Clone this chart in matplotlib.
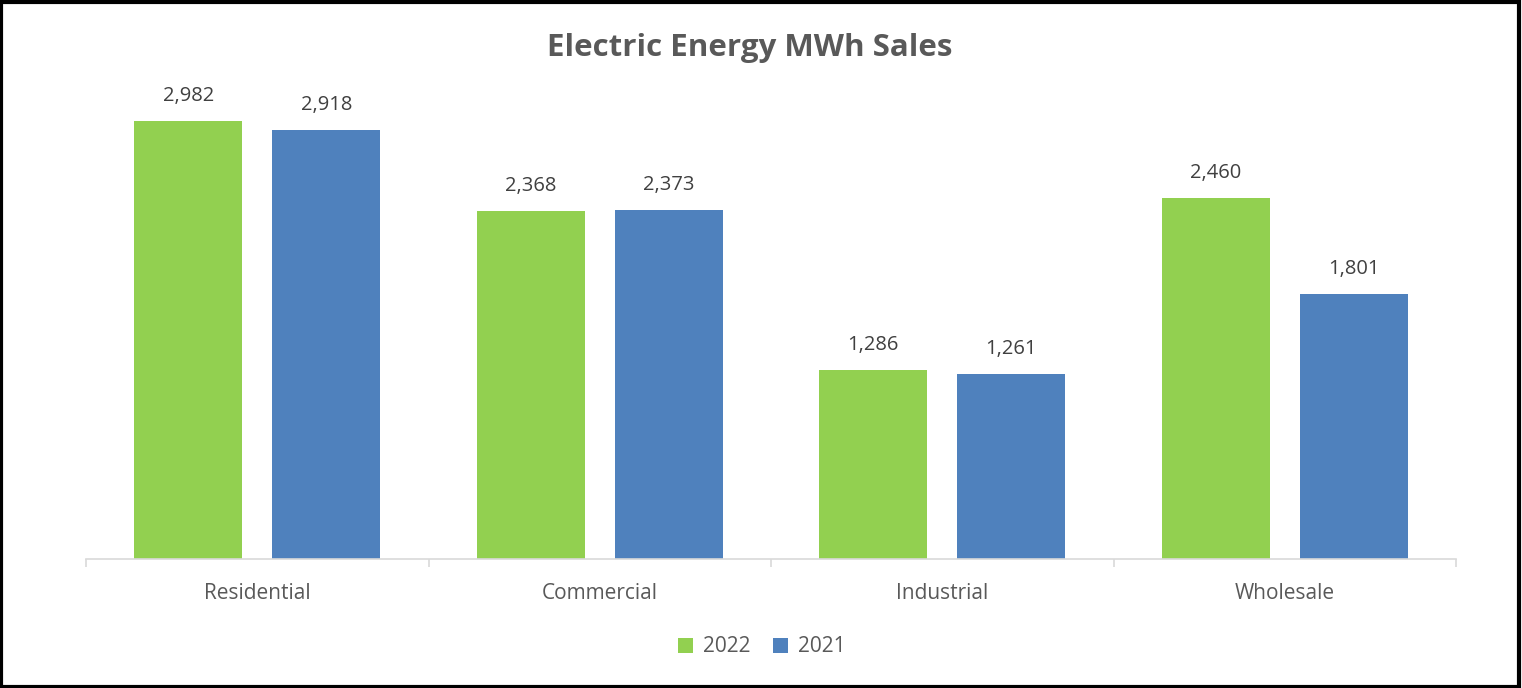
import matplotlib
matplotlib.use("Agg")
import matplotlib.pyplot as plt
import numpy as np
from matplotlib.patches import Rectangle

categories = ["Residential", "Commercial", "Industrial", "Wholesale"]
series_names = ["2022", "2021"]
values_2022 = [2982, 2368, 1286, 2460]
values_2021 = [2918, 2373, 1261, 1801]
title = "Electric Energy MWh Sales"

GREEN = "#92D050"
BLUE = "#4F81BD"
TXT = "#595959"
LBL = "#404040"
FONT = "Open Sans"

fig = plt.figure(figsize=(15.22, 6.88), dpi=100)
ax = fig.add_axes([86/1522, (688-559)/688, (1456-86)/1522, (559-90)/688])

x = np.arange(len(categories))
w = 108/342
gap = 30/342
off = (w + gap) / 2
b1 = ax.bar(x - off, values_2022, w, color=GREEN, label=series_names[0], zorder=2)
b2 = ax.bar(x + off, values_2021, w, color=BLUE, label=series_names[1], zorder=2)

for bars, vals in ((b1, values_2022), (b2, values_2021)):
    for r, v in zip(bars, vals):
        ax.annotate(f"{v:,}", (r.get_x() + r.get_width()/2, v), xytext=(0, 18),
                    textcoords="offset points", ha="center", va="center",
                    fontsize=14.5, color=LBL, family=FONT)

ax.set_xlim(-0.5, len(categories) - 0.5)
ax.set_ylim(0, 469/0.14688)
for s in ("top", "right", "left"):
    ax.spines[s].set_visible(False)
ax.spines["bottom"].set_color("#D9D9D9")
ax.spines["bottom"].set_linewidth(1.2)
ax.set_yticks([])
ax.set_xticks(np.arange(-0.5, len(categories), 1.0), minor=False)
ax.set_xticklabels([])
ax.tick_params(axis="x", which="major", length=6, color="#D9D9D9", width=1.2)
ax.set_xticks(x, minor=True)
ax.set_xticklabels(categories, minor=True, fontsize=15, color=TXT, family=FONT)
ax.tick_params(axis="x", which="minor", length=0, pad=17)

fig.text(750/1522, 1 - 48/688, title, ha="center", va="center", fontsize=22.5,
         fontweight="bold", color=TXT, family=FONT)

leg = fig.legend(handles=[b1, b2], labels=series_names, loc="center",
                 bbox_to_anchor=(762/1522, 1 - 647/688), ncol=2, frameon=False,
                 handlelength=0.7, handleheight=0.7, handletextpad=0.5,
                 columnspacing=1.1, prop={"family": FONT, "size": 15})
for t in leg.get_texts():
    t.set_color(TXT)

fig.add_artist(Rectangle((1.5/1522, 1.5/688), 1 - 3/1522 - 2/1522, 1 - 3/688, transform=fig.transFigure,
                         fill=False, edgecolor="black", linewidth=3.0))

fig.savefig("out.png", dpi=100, facecolor="white")
